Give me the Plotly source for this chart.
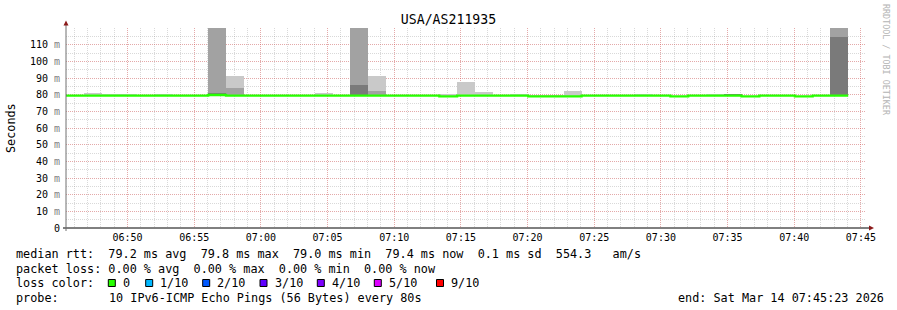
import plotly.graph_objects as go
import pandas as pd

# ---------------- data ----------------
title_text = "USA/AS211935"
start_time = "2026-03-14 06:45:23"
end_time = "2026-03-14 07:45:23"
step_seconds = 80

# median RTT per 80 s step (ms)
median_ms = [79.4, 79.4, 79.4, 79.4, 79.4, 79.4, 79.4, 79.4, 79.8, 79.4,
             79.4, 79.4, 79.4, 79.4, 79.4, 79.4, 79.4, 79.4, 79.4, 79.4,
             79.4, 79.0, 79.4, 79.4, 79.4, 79.4, 79.0, 79.0, 79.0, 79.4,
             79.4, 79.4, 79.4, 79.4, 79.0, 79.4, 79.4, 79.4, 79.0, 79.4,
             79.4, 79.0, 79.4, 79.4]
# smoke band tops (ms); None = no band
smoke_dark_top = [None] * 44
smoke_dark_top[8] = 81.0
smoke_dark_top[16] = 86.1
smoke_dark_top[37] = 80.3
smoke_dark_top[43] = 114.7
smoke_mid_top = [None] * 44
smoke_mid_top[8] = 123.0
smoke_mid_top[9] = 84.0
smoke_mid_top[16] = 123.0
smoke_mid_top[17] = 82.5
smoke_mid_top[43] = 123.0
smoke_light_top = [None] * 44
for k, v in {1: 81.3, 2: 80.7, 3: 80.2, 5: 80.2, 9: 91.0, 14: 81.3, 17: 91.5,
             21: 80.7, 22: 87.5, 23: 81.9, 25: 80.1, 26: 80.1, 27: 80.1,
             28: 82.5, 32: 80.1, 36: 80.7}.items():
    smoke_light_top[k] = v

x_tick_labels = ["06:50", "06:55", "07:00", "07:05", "07:10", "07:15",
                 "07:20", "07:25", "07:30", "07:35", "07:40", "07:45"]
y_tick_vals = [0, 10, 20, 30, 40, 50, 60, 70, 80, 90, 100, 110]
y_tick_labels = ["0"] + [f"{v} <span style='color:#808080'>m</span>" for v in y_tick_vals[1:]]

legend_line1 = ["median rtt:", "79.2 ms avg", "79.8 ms max", "79.0 ms min",
                "79.4 ms now", "0.1 ms sd", "554.3", "am/s"]
legend_line2 = ["packet loss:", "0.00 % avg", "0.00 % max", "0.00 % min", "0.00 % now"]
loss_labels = ["0", "1/10", "2/10", "3/10", "4/10", "5/10", "9/10"]
loss_colors = ["#26ff00", "#00b8ff", "#0059ff", "#5e00ff", "#7e00ff", "#dd00ff", "#ff0000"]
probe_text = "10 IPv6-ICMP Echo Pings (56 Bytes) every 80s"
end_text = "end: Sat Mar 14 07:45:23 2026"
watermark = "RRDTOOL / TOBI OETIKER"

# ---------------- layout geometry ----------------
W, H = 897, 310
L, R, T, B = 66, 31, 28, 82
PW, PH = W - L - R, H - T - B
MONO = "DejaVu Sans Mono"


def pxx(x):
    return (x - L) / PW


def pxy(y):
    return (H - B - y) / PH


t0 = pd.Timestamp(start_time)
n = len(median_ms)
step = pd.Timedelta(seconds=step_seconds)
centers = [t0 + step * (k + 0.5) for k in range(n)]
edges = [t0 + step * k for k in range(n + 1)]

fig = go.Figure()


def add_band(lower, upper, color):
    xs, bases, hs = [], [], []
    for k in range(n):
        if upper[k] is None:
            continue
        lo = lower[k]
        if upper[k] > lo:
            xs.append(centers[k]); bases.append(lo); hs.append(upper[k] - lo)
    fig.add_trace(go.Bar(x=xs, y=hs, base=bases, width=step_seconds * 1000,
                         marker=dict(color=color, line=dict(width=0)),
                         showlegend=False, hoverinfo="skip"))


dark_lo = list(median_ms)
mid_lo = [max(m, d) if d is not None else m for m, d in zip(median_ms, smoke_dark_top)]
light_lo = [max(a, b) if b is not None else a for a, b in zip(mid_lo, smoke_mid_top)]
add_band(dark_lo, smoke_dark_top, "#7a7a7a")
add_band(mid_lo, smoke_mid_top, "#a2a2a2")
add_band(light_lo, smoke_light_top, "#c9c9c9")

fig.add_trace(go.Scatter(x=edges, y=median_ms + [median_ms[-1]], mode="lines",
                         line=dict(color="#26ff00", width=2.3, shape="hv"),
                         showlegend=False, hoverinfo="skip"))

major_grid = "rgba(255,60,60,0.30)"
minor_grid = "rgba(140,140,140,0.33)"

fig.update_layout(
    width=W, height=H, margin=dict(l=L, r=R, t=T, b=B, autoexpand=False),
    paper_bgcolor="white", plot_bgcolor="white", barmode="overlay", bargap=0,
    showlegend=False,
    title=dict(text=title_text, x=0.5, xref="container", xanchor="center",
               y=1 - 19.5 / H, yref="container", yanchor="middle",
               font=dict(family=MONO, size=13.2, color="black")),
    xaxis=dict(type="date", range=[start_time, end_time],
               tickmode="array",
               tickvals=[f"2026-03-14 {t}:00" for t in x_tick_labels],
               ticktext=x_tick_labels,
               showgrid=True, gridcolor=major_grid, griddash="1px,1px", gridwidth=1,
               minor=dict(tickmode="linear", tick0="2026-03-14 06:45:00", dtick=60000,
                          showgrid=True, gridcolor=minor_grid, griddash="1px,1px",
                          gridwidth=1, ticks=""),
               ticks="", showline=False, zeroline=False, ticklabelstandoff=2,
               tickfont=dict(family=MONO, size=10, color="black")),
    yaxis=dict(range=[0, 120], tickmode="array", tickvals=y_tick_vals,
               ticktext=y_tick_labels,
               showgrid=True, gridcolor=major_grid, griddash="1px,1px", gridwidth=1,
               minor=dict(tickmode="linear", tick0=0, dtick=5, showgrid=True,
                          gridcolor=minor_grid, griddash="1px,1px", gridwidth=1, ticks=""),
               ticks="", showline=False, zeroline=False, ticklabelstandoff=5,
               tickfont=dict(family=MONO, size=10, color="black")),
)

shapes = []
# axes
shapes.append(dict(type="line", xref="paper", yref="paper", x0=pxx(63), x1=pxx(869),
                   y0=pxy(228), y1=pxy(228), line=dict(color="black", width=1)))
shapes.append(dict(type="line", xref="paper", yref="paper", x0=pxx(66), x1=pxx(66),
                   y0=pxy(231), y1=pxy(24), line=dict(color="#707070", width=1)))


def tri(pts):
    return "M " + " L ".join(f"{pxx(a)},{pxy(b)}" for a, b in pts) + " Z"


shapes.append(dict(type="path", xref="paper", yref="paper",
                   path=tri([(869, 225.5), (874, 228), (869, 230.5)]),
                   fillcolor="#8b1a1a", line=dict(width=0)))
shapes.append(dict(type="path", xref="paper", yref="paper",
                   path=tri([(63.5, 25.5), (66, 20.5), (68.5, 25.5)]),
                   fillcolor="#8b1a1a", line=dict(width=0)))

annotations = []


def text(x, y, s, size=11.8, color="black", anchor="left", angle=0):
    annotations.append(dict(x=pxx(x), y=pxy(y), xref="paper", yref="paper",
                            text=s.replace(" ", "\u00a0"), showarrow=False,
                            xanchor=anchor, yanchor="middle", textangle=angle,
                            borderpad=0, borderwidth=0,
                            font=dict(family=MONO, size=size, color=color)))


CW = 7.12
X0 = 16.0
Y1, Y2, Y3, Y4 = 253.8, 268.5, 283.2, 297.9
text(X0, Y1, "  ".join(legend_line1[:-2]) + "  " + legend_line1[-2] + "   " + legend_line1[-1])
text(X0, Y2, legend_line2[0] + " " + "  ".join(legend_line2[1:]))
text(X0, Y3, "loss color:")
box_x = [108.3, 145.7, 202.7, 260.0, 317.3, 374.3, 436.5]
for bx, lab, col in zip(box_x, loss_labels, loss_colors):
    shapes.append(dict(type="rect", xref="paper", yref="paper",
                       x0=pxx(bx), x1=pxx(bx + 7), y0=pxy(Y3 + 3.3), y1=pxy(Y3 - 3.7),
                       fillcolor=col, line=dict(color="black", width=1)))
    text(bx + 14.5, Y3, lab)
text(X0, Y4, "probe:")
text(X0 + 13 * CW, Y4, probe_text)
text(678, Y4, end_text)
text(10.5, 127.5, "Seconds", angle=-90, anchor="center")
text(886, 60, watermark, size=8.4, color="#b4b4b4", anchor="center", angle=90)

fig.update_layout(shapes=shapes, annotations=annotations)
fig.write_html("out.html")
